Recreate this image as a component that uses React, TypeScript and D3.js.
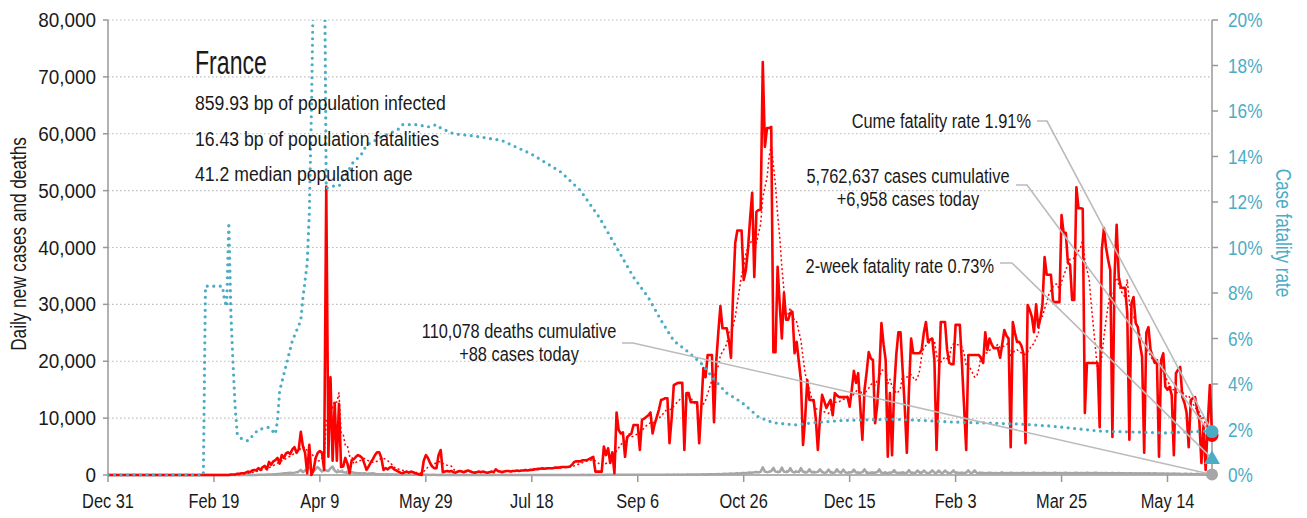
import React from "react";
import * as d3 from "d3";

// x axis: days since Dec 31, 2019
const tickLabels = ["Dec 31", "Feb 19", "Apr 9", "May 29", "Jul 18", "Sep 6", "Oct 26", "Dec 15", "Feb 3", "Mar 25", "May 14"];
const tickDays = [0, 50, 100, 150, 200, 250, 300, 350, 400, 450, 500];
const yTicks = [0, 10000, 20000, 30000, 40000, 50000, 60000, 70000, 80000];
const pctTicks = [0, 2, 4, 6, 8, 10, 12, 14, 16, 18, 20];

// daily new cases, thousands (one value per day)
const casesK = [
  0, 0, 0, 0, 0, 0, 0, 0, 0, 0,
  0, 0, 0, 0, 0, 0, 0, 0, 0, 0,
  0, 0, 0, 0, 0, 0, 0, 0, 0, 0,
  0, 0, 0, 0, 0, 0, 0, 0, 0, 0,
  0, 0, 0, 0, 0, 0, 0, 0, 0, 0,
  0, 0, 0, 0, 0, 0, 0, 0, 0.1, 0.1,
  0.1, 0.2, 0.2, 0.3, 0.3, 0.4, 0.6, 0.5, 0.8, 0.9,
  0.8, 1.2, 0.9, 1.4, 1.6, 1.0, 2.3, 1.8, 2.4, 2.6,
  3.0, 2.0, 3.5, 3.0, 3.8, 4.0, 3.7, 4.5, 4.9, 3.9,
  4.5, 7.6, 5.0, 3.9, 0.3, 5.3, 0, 0.9, 3.0, 3.9,
  4.2, 3.9, 0.9, 50.7, 3.2, 17.2, 2.5, 12.7, 2.5, 12.5,
  1.4, 1.5, 3.0, 2.0, 0.3, 2.6, 2.8, 3.2, 3.5, 3.3,
  3.0, 2.0, 0.9, 1.5, 2.2, 2.8, 3.5, 4.0, 4.0, 3.0,
  0.9, 1.2, 1.0, 1.3, 1.4, 1.0, 0.8, 0.6, 0.4, 0.3,
  0.5, 0.6, 0.4, 0.6, 0.5, 0.3, 0.2, 0.1, 0, 2.5,
  3.5, 3.0, 2.1, 1.5, 1.2, 1.2, 3.5, 4.4, 0.5, 0.6,
  0.7, 0.6, 0.7, 0.5, 0.4, 0.6, 0.7, 0.6, 0.5, 0.7,
  0.8, 0.6, 0.5, 0.4, 0.5, 0.6, 0.5, 0.6, 0.5, 0.4,
  0.5, 0.6, 0.5, 1.0, 0.7, 0.6, 0.5, 0.6, 0.7, 0.7,
  0.6, 0.7, 0.7, 0.8, 0.7, 0.8, 0.8, 0.9, 0.8, 0.9,
  0.9, 1.0, 1.0, 1.1, 1.1, 1.2, 1.1, 1.2, 1.2, 1.2,
  1.2, 1.3, 1.3, 1.3, 1.4, 1.4, 1.4, 1.4, 1.5, 1.8,
  2.3, 2.4, 2.4, 2.4, 2.6, 2.6, 2.6, 2.8, 3.0, 3.2,
  0.6, 0.6, 0.6, 0.6, 5.0, 3.5, 4.7, 2.1, 4.0, 0.3,
  11.0, 7.9, 7.3, 7.5, 3.2, 6.7, 7.0, 7.3, 8.8, 8.8,
  8.8, 4.4, 9.7, 9.9, 10.2, 10.5, 11.0, 7.3, 9.0, 10.2,
  11.5, 13.2, 13.3, 13.5, 13.5, 5.6, 10.0, 15.8, 16.0, 16.2,
  16.2, 16.2, 4.4, 14.4, 14.4, 12.8, 12.8, 12.8, 12.8, 5.6,
  12.0, 18.8, 17.2, 21.1, 21.1, 21.1, 9.3, 19.7, 25.0, 29.7,
  25.8, 25.8, 25.8, 23.7, 20.6, 32.0, 40.8, 43.0, 43.0, 43.0,
  34.3, 36.0, 39.6, 45.0, 49.6, 34.8, 46.3, 46.6, 46.6, 72.6,
  57.7, 61.0, 61.0, 61.2, 21.6, 21.6, 36.6, 30.0, 24.0, 32.0,
  27.3, 27.3, 28.5, 28.7, 21.4, 23.4, 20.0, 16.7, 5.3, 10.0,
  16.7, 13.2, 13.2, 13.2, 10.0, 4.4, 10.0, 14.1, 13.0, 11.8,
  12.5, 13.2, 10.5, 14.4, 14.0, 13.7, 13.7, 13.7, 13.7, 13.7,
  12.0, 15.0, 18.3, 16.2, 17.9, 12.0, 6.2, 14.9, 18.0, 21.6,
  20.5, 20.2, 9.1, 12.3, 18.0, 26.7, 23.0, 20.2, 3.2, 14.4,
  3.5, 15.0, 21.1, 25.1, 25.1, 18.5, 12.0, 3.9, 15.0, 24.0,
  21.4, 21.4, 21.4, 21.4, 22.0, 25.0, 26.9, 23.4, 23.8, 24.0,
  20.2, 4.4, 16.0, 26.9, 26.9, 26.9, 22.0, 19.7, 19.5, 19.5,
  26.4, 26.4, 26.4, 19.5, 12.0, 4.4, 21.1, 21.1, 21.1, 21.1,
  21.1, 21.1, 20.5, 19.7, 25.1, 22.0, 24.0, 23.0, 22.3, 22.3,
  22.3, 20.6, 23.0, 25.5, 24.5, 24.0, 4.9, 26.9, 25.0, 23.4,
  23.4, 22.8, 21.4, 5.6, 29.9, 29.0, 27.8, 25.1, 30.0, 26.0,
  27.5, 30.0, 38.3, 35.2, 35.2, 35.2, 30.4, 30.4, 30.4, 30.4,
  45.7, 42.5, 42.6, 37.3, 37.0, 30.8, 30.8, 50.6, 46.9, 46.9,
  46.8, 10.9, 19.7, 19.7, 19.7, 19.7, 19.7, 19.7, 8.4, 39.6,
  43.4, 40.0, 37.8, 36.0, 6.7, 34.8, 44.0, 34.8, 33.0, 32.9,
  32.9, 28.5, 6.2, 30.2, 31.3, 26.7, 26.0, 23.0, 20.8, 3.9,
  25.0, 26.0, 22.0, 20.8, 19.7, 20.2, 3.2, 20.2, 21.4, 15.5,
  15.0, 15.5, 14.0, 3.5, 17.9, 18.5, 19.0, 13.7, 12.7, 11.0,
  4.9, 13.2, 13.5, 13.7, 11.5, 9.7, 2.1, 8.8, 0.9, 9.0,
  15.8, 6.958,
];

// daily new deaths, thousands
const deathsK = [
  0, 0, 0, 0, 0, 0, 0, 0, 0, 0,
  0, 0, 0, 0, 0, 0, 0, 0, 0, 0,
  0, 0, 0, 0, 0, 0, 0, 0, 0, 0,
  0, 0, 0, 0, 0, 0, 0, 0, 0, 0,
  0, 0, 0, 0, 0, 0, 0, 0, 0, 0,
  0, 0, 0, 0, 0, 0, 0, 0, 0, 0,
  0, 0, 0, 0, 0, 0, 0, 0.01, 0.01, 0.02,
  0.02, 0.03, 0.03, 0.05, 0.06, 0.08, 0.1, 0.1, 0.12, 0.15,
  0.18, 0.2, 0.24, 0.3, 0.32, 0.36, 0.4, 0.35, 0.42, 0.5,
  0.6, 0.9, 0.5, 0.8, 1.0, 1.4, 0.9, 0.6, 1.1, 1.4,
  1.0, 0.6, 0.9, 0.8, 0.7, 1.2, 1.5, 0.8, 0.5, 0.6,
  0.6, 0.5, 0.45, 0.4, 0.3, 0.5, 0.4, 0.35, 0.3, 0.3,
  0.25, 0.3, 0.2, 0.2, 0.25, 0.3, 0.2, 0.15, 0.15, 0.12,
  0.1, 0.1, 0.12, 0.1, 0.08, 0.08, 0.1, 0.07, 0.06, 0.05,
  0.06, 0.05, 0.05, 0.04, 0.05, 0.04, 0.03, 0.03, 0.04, 0.05,
  0.03, 0.03, 0.02, 0.03, 0.03, 0.02, 0.02, 0.03, 0.02, 0.02,
  0.02, 0.02, 0.03, 0.02, 0.02, 0.02, 0.02, 0.02, 0.03, 0.02,
  0.02, 0.02, 0.01, 0.02, 0.02, 0.02, 0.02, 0.02, 0.01, 0.02,
  0.02, 0.02, 0.02, 0.01, 0.02, 0.02, 0.02, 0.02, 0.01, 0.02,
  0.02, 0.01, 0.02, 0.02, 0.02, 0.01, 0.02, 0.02, 0.02, 0.01,
  0.02, 0.02, 0.01, 0.02, 0.02, 0.02, 0.01, 0.02, 0.02, 0.02,
  0.01, 0.02, 0.02, 0.02, 0.02, 0.01, 0.02, 0.02, 0.02, 0.02,
  0.02, 0.02, 0.02, 0.02, 0.03, 0.02, 0.02, 0.03, 0.02, 0.02,
  0.03, 0.02, 0.03, 0.03, 0.02, 0.03, 0.03, 0.04, 0.03, 0.03,
  0.04, 0.03, 0.04, 0.04, 0.03, 0.04, 0.05, 0.04, 0.04, 0.05,
  0.04, 0.05, 0.05, 0.04, 0.05, 0.06, 0.05, 0.05, 0.06, 0.05,
  0.06, 0.06, 0.05, 0.06, 0.07, 0.06, 0.06, 0.07, 0.06, 0.07,
  0.06, 0.07, 0.06, 0.08, 0.08, 0.07, 0.09, 0.08, 0.1, 0.09,
  0.1, 0.12, 0.1, 0.13, 0.12, 0.14, 0.13, 0.15, 0.16, 0.14,
  0.18, 0.2, 0.17, 0.22, 0.25, 0.2, 0.26, 0.3, 0.28, 0.33,
  0.35, 0.3, 0.4, 0.45, 0.38, 0.5, 0.55, 0.45, 0.6, 1.35,
  0.6, 0.5, 0.55, 0.7, 1.25, 0.6, 0.5, 0.55, 1.3, 0.6,
  0.5, 0.6, 1.2, 0.55, 0.45, 0.6, 0.5, 1.2, 0.55, 0.45,
  0.5, 1.0, 0.5, 0.45, 0.5, 0.55, 1.0, 0.5, 0.4, 0.45,
  0.95, 0.45, 0.4, 0.45, 1.0, 0.5, 0.4, 0.95, 0.45, 0.4,
  0.45, 0.5, 0.95, 0.45, 0.4, 0.4, 0.5, 1.0, 0.4, 0.35,
  0.4, 0.45, 0.4, 0.5, 1.0, 0.4, 0.35, 0.45, 0.3, 0.4,
  0.45, 0.85, 0.4, 0.35, 0.4, 0.45, 0.35, 0.4, 0.85, 0.35,
  0.4, 0.35, 0.8, 0.4, 0.35, 0.8, 0.4, 0.35, 0.4, 0.8,
  0.4, 0.35, 0.8, 0.4, 0.35, 0.8, 0.4, 0.35, 0.4, 0.8,
  0.35, 0.4, 0.35, 0.4, 0.35, 0.4, 0.8, 0.35, 0.4, 0.8,
  0.35, 0.3, 0.4, 0.35, 0.3, 0.35, 0.4, 0.35, 0.3, 0.35,
  0.3, 0.35, 0.45, 0.3, 0.35, 0.3, 0.4, 0.35, 0.3, 0.35,
  0.3, 0.35, 0.4, 0.3, 0.35, 0.3, 0.35, 0.4, 0.3, 0.35,
  0.3, 0.35, 0.4, 0.3, 0.35, 0.3, 0.35, 0.4, 0.3, 0.35,
  0.3, 0.35, 0.4, 0.3, 0.35, 0.3, 0.35, 0.4, 0.3, 0.35,
  0.35, 0.3, 0.4, 0.35, 0.3, 0.35, 0.4, 0.35, 0.3, 0.35,
  0.3, 0.35, 0.3, 0.3, 0.35, 0.3, 0.3, 0.35, 0.3, 0.3,
  0.3, 0.25, 0.3, 0.3, 0.25, 0.3, 0.25, 0.3, 0.25, 0.3,
  0.25, 0.3, 0.25, 0.25, 0.3, 0.25, 0.2, 0.25, 0.25, 0.2,
  0.25, 0.2, 0.2, 0.25, 0.2, 0.2, 0.2, 0.15, 0.2, 0.2,
  0.15, 0.2, 0.15, 0.15, 0.2, 0.15, 0.1, 0.15, 0.1, 0.1,
  0.12, 0.088,
];

// case fatality rate (%), read at these days
const cfrDay = [0, 45, 46, 54, 55, 56, 57, 58, 59, 60, 61, 63, 66, 71, 76, 79, 80, 81, 84, 87, 91, 92, 94, 95, 96, 97, 100, 102, 103, 106, 109, 113, 116, 119, 122, 128, 137, 139, 146, 151, 155, 157, 163, 173, 186, 200, 214, 223, 232, 240, 248, 255, 261, 267, 274, 280, 286, 292, 299, 307, 314, 324, 333, 347, 371, 384, 398, 430, 445, 468, 499, 518, 521];
const cfrPct = [0, 0, 8.3, 8.3, 7.7, 7.4, 11.1, 7.1, 4.9, 3.0, 1.8, 1.6, 1.5, 2.0, 2.1, 1.8, 2.4, 3.7, 4.8, 5.9, 6.8, 7.8, 9.3, 11.5, 16, 22, 28, 25, 12.6, 12.7, 12.7, 13.3, 13.8, 14.0, 14.5, 14.8, 15.2, 15.4, 15.4, 15.3, 15.4, 15.25, 15.0, 14.9, 14.7, 14.1, 13.3, 12.5, 11.3, 10.0, 8.7, 7.8, 6.8, 5.9, 5.4, 4.9, 4.2, 3.6, 3.2, 2.55, 2.3, 2.2, 2.3, 2.4, 2.45, 2.4, 2.33, 2.24, 2.15, 1.93, 1.85, 1.93, 1.91];

const statLines = ["859.93 bp of population infected", "16.43 bp of population fatalities", "41.2 median population age"];
const lastCases = 6958;
const lastDeaths = 88;
const cumeRate = 1.91;
const twoWeekRate = 0.73;

const RED = "#ff0000";
const GRAY = "#a6a6a6";
const TEAL = "#4bacc6";
const INK = "#1a1a1a";
const FONT = "'Liberation Sans', Arial, sans-serif";

function trailingAvg(vals: number[], n: number) {
  return vals.map((_, i) => {
    const s = vals.slice(Math.max(0, i - n + 1), i + 1);
    return d3.mean(s) as number;
  });
}

// narrow text: regular sans squeezed horizontally
function T(props: {
  x: number; y: number; size?: number; sx?: number; rot?: number;
  anchor?: string; fill?: string; children: React.ReactNode;
}) {
  const { x, y, size = 21, sx = 0.78, rot = 0, anchor = "start", fill = INK, children } = props;
  return (
    <text
      transform={`translate(${x}, ${y}) rotate(${rot}) scale(${sx}, 1)`}
      textAnchor={anchor}
      fontSize={size}
      fill={fill}
    >
      {children}
    </text>
  );
}

export default function App() {
  const W = 1307;
  const H = 518;
  const left = 108, right = 1212, top = 20, bottom = 475;
  const last = casesK.length - 1;

  const x = d3.scaleLinear().domain([0, last]).range([left, right]);
  const y = d3.scaleLinear().domain([0, 80000]).range([bottom, top]);
  const yp = d3.scaleLinear().domain([0, 20]).range([bottom, top]);

  const kLine = d3.line<number>().x((_, i) => x(i)).y((d) => y(d * 1000));
  const cfrLine = d3.line<number>().x((_, i) => x(cfrDay[i])).y((d) => yp(d));

  const casesAvg = trailingAvg(casesK, 7);
  const deathsAvg = trailingAvg(deathsK, 7);

  const ex = x(last);
  const endCases = y(lastCases);
  const endDeaths = y(lastDeaths);
  const endCume = yp(cumeRate);
  const endTwo = yp(twoWeekRate);

  const leader = (pts: [number, number][]) => d3.line()(pts) as string;
  const tri = d3.symbol(d3.symbolTriangle, 110)() as string;

  return (
    <svg width={W} height={H} style={{ position: "absolute", left: 0, top: 0, background: "#fff" }} fontFamily={FONT}>
      <defs>
        <clipPath id="plot">
          <rect x={left} y={top} width={right - left + 8} height={bottom - top + 6} />
        </clipPath>
      </defs>

      {/* gridlines */}
      {yTicks.slice(1).map((t) => (
        <line key={t} x1={left} x2={right} y1={y(t)} y2={y(t)} stroke="#bdbdbd" strokeWidth={1.2} strokeDasharray="1.5 2.5" />
      ))}

      {/* left axis */}
      <line x1={left} x2={left} y1={top} y2={bottom} stroke="#999" strokeWidth={1.5} />
      {yTicks.map((t) => (
        <g key={t}>
          <line x1={left - 5} x2={left} y1={y(t)} y2={y(t)} stroke="#999" strokeWidth={1.5} />
          <T x={96} y={y(t) + 7} anchor="end" sx={0.9}>{d3.format(",")(t)}</T>
        </g>
      ))}
      <T x={26} y={244} rot={-90} anchor="middle" size={22}>Daily new cases and deaths</T>

      {/* right axis */}
      <line x1={right} x2={right} y1={top} y2={bottom} stroke="#999" strokeWidth={1.5} />
      {pctTicks.map((t) => (
        <g key={t}>
          <line x1={right} x2={right + 6} y1={yp(t)} y2={yp(t)} stroke="#999" strokeWidth={1.5} />
          <T x={1228} y={yp(t) + 7} fill={TEAL} sx={0.82}>{`${t}%`}</T>
        </g>
      ))}
      <T x={1276} y={233} rot={90} anchor="middle" size={22} fill={TEAL}>Case fatality rate</T>

      {/* bottom axis */}
      <line x1={left} x2={right} y1={bottom} y2={bottom} stroke="#999" strokeWidth={1.5} />
      {tickDays.map((d, i) => (
        <g key={d}>
          <line x1={x(d)} x2={x(d)} y1={bottom} y2={bottom + 7} stroke="#999" strokeWidth={1.5} />
          <T x={x(d)} y={508} anchor="middle">{tickLabels[i]}</T>
        </g>
      ))}

      {/* series */}
      <g clipPath="url(#plot)" fill="none" strokeLinejoin="round">
        <path d={kLine(deathsAvg) as string} stroke={GRAY} strokeWidth={1.5} strokeDasharray="2 2.5" />
        <path d={kLine(deathsK) as string} stroke={GRAY} strokeWidth={2.5} />
        <path d={kLine(casesAvg) as string} stroke={RED} strokeWidth={1.5} strokeDasharray="2 2.5" />
        <path d={kLine(casesK) as string} stroke={RED} strokeWidth={2.6} />
        <path d={cfrLine(cfrPct) as string} stroke={TEAL} strokeWidth={3.2} strokeDasharray="0 6.5" strokeLinecap="round" />
      </g>

      {/* leader lines */}
      <g fill="none" stroke="#bbbbbb" strokeWidth={1.6}>
        <path d={leader([[1037, 121], [1047, 121], [ex, endCume]])} />
        <path d={leader([[1016, 185], [1027, 185], [ex, endCases]])} />
        <path d={leader([[1000, 263], [1012, 263], [ex, endTwo]])} />
        <path d={leader([[622, 343], [633, 343], [ex, endDeaths]])} />
      </g>

      {/* end markers */}
      <circle cx={ex} cy={endDeaths} r={6} fill={GRAY} />
      <circle cx={ex} cy={endCases} r={6.5} fill={RED} />
      <path d={tri} transform={`translate(${ex}, ${endTwo + 1})`} fill={TEAL} />
      <circle cx={ex} cy={endCume} r={6.5} fill={TEAL} />

      {/* title block */}
      <T x={195} y={74} size={33} sx={0.7}>France</T>
      {statLines.map((s, i) => (
        <T key={s} x={195} y={110 + i * 35.5} size={21} sx={0.84}>{s}</T>
      ))}

      {/* annotations */}
      <T x={1031} y={128} anchor="end">Cume fatality rate 1.91%</T>
      <T x={908} y={183} anchor="middle">5,762,637 cases cumulative</T>
      <T x={908} y={206} anchor="middle">+6,958 cases today</T>
      <T x={994} y={273} anchor="end">2-week fatality rate 0.73%</T>
      <T x={519} y={338} anchor="middle">110,078 deaths cumulative</T>
      <T x={519} y={361} anchor="middle">+88 cases today</T>
    </svg>
  );
}
